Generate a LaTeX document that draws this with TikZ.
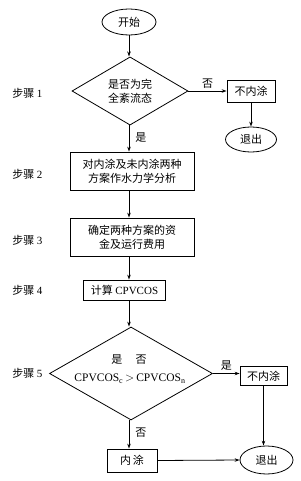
\documentclass[tikz,border=0pt]{standalone}
\usepackage{fontspec}
\setmainfont{Liberation Serif}
\newfontfamily\cjk{Noto Sans CJK SC}
\usetikzlibrary{shapes.geometric,arrows.meta}
\newcommand{\lat}[1]{{\rmfamily #1}}
\begin{document}
\begin{tikzpicture}[x=1pt,y=-1pt,
  font=\cjk\fontsize{11}{14}\selectfont,
  line width=0.8pt,
  every node/.style={inner sep=1pt},
  term/.style={ellipse,draw,minimum width=54pt,minimum height=26pt},
  proc/.style={rectangle,draw,align=center,inner sep=0pt},
  dec/.style={diamond,draw,align=center,inner sep=0pt},
  arr/.style={-{Stealth[length=5pt,width=3.5pt]}},
  steplabel/.style={anchor=west}]
\useasboundingbox (0,0) rectangle (300,481);
\node[term] (start) at (129,22) {开始};
\node[dec,minimum width=116pt,minimum height=63pt] (d1) at (130,91) {是否为完\\全紊流态};
\node[proc,minimum width=48pt,minimum height=22pt] (b1) at (251,91) {不内涂};
\node[term,minimum width=51pt,minimum height=25pt] (e1) at (251,139.5) {退出};
\node[proc,minimum width=124pt,minimum height=38pt] (b2) at (132,171) {对内涂及未内涂两种\\方案作水力学分析};
\node[proc,minimum width=124pt,minimum height=38pt] (b3) at (132,237) {确定两种方案的资\\金及运行费用};
\node[proc,minimum width=82pt,minimum height=20pt] (b4) at (124.5,290) {计算 \lat{CPVCOS}};
\node[dec,minimum width=163pt,minimum height=93pt] (d2) at (131,373.5) {};
\node (yn) at (129,360) {是\hspace{1.2em}否};
\node (cmp) at (130,379) {\lat{\fontsize{11.5}{14}\selectfont CPVCOS\textsubscript{c}\,$>$\,CPVCOS\textsubscript{n}}};
\node[proc,minimum width=47pt,minimum height=19pt] (b5) at (263.5,376) {不内涂};
\node[term,minimum width=53pt,minimum height=28pt] (e2) at (266.5,460) {退出};
\node[proc,minimum width=50pt,minimum height=23pt] (b6) at (132,460.5) {内\,涂};

\node[steplabel] (s1) at (11,93) {步骤 \lat{1}};
\node[steplabel] (s2) at (11,174) {步骤 \lat{2}};
\node[steplabel] (s3) at (11,240) {步骤 \lat{3}};
\node[steplabel] (s4) at (11,290) {步骤 \lat{4}};
\node[steplabel] (s5) at (11,373) {步骤 \lat{5}};

\coordinate (c1) at (129,0);
\draw[arr] (start.south) -- (start.south |- d1.north);
\draw[arr] (d1.east) -- (d1.east -| b1.west) node[midway,above=1pt] (n1) {否};
\draw[arr] (b1.south) -- (b1.south |- e1.north);
\draw[arr] (d1.south -| c1) -- (c1 |- b2.north) node[pos=0.45,right=5pt] (y1) {是};
\draw[arr] (c1 |- b2.south) -- (c1 |- b3.north);
\draw[arr] (c1 |- b3.south) -- (c1 |- b4.north);
\draw[arr] (c1 |- b4.south) -- (c1 |- d2.north);
\draw[arr] (d2.east) -- (d2.east -| b5.west) node[midway,above=2pt] (y2) {是};
\draw[arr] (b5.south) -- (b5.south |- e2.north);
\draw[arr] (c1 |- d2.south) -- (c1 |- b6.north) node[pos=0.45,right=5pt] (n2) {否};
\draw[arr] (b6.east) -- (e2.west);
\end{tikzpicture}
\end{document}
